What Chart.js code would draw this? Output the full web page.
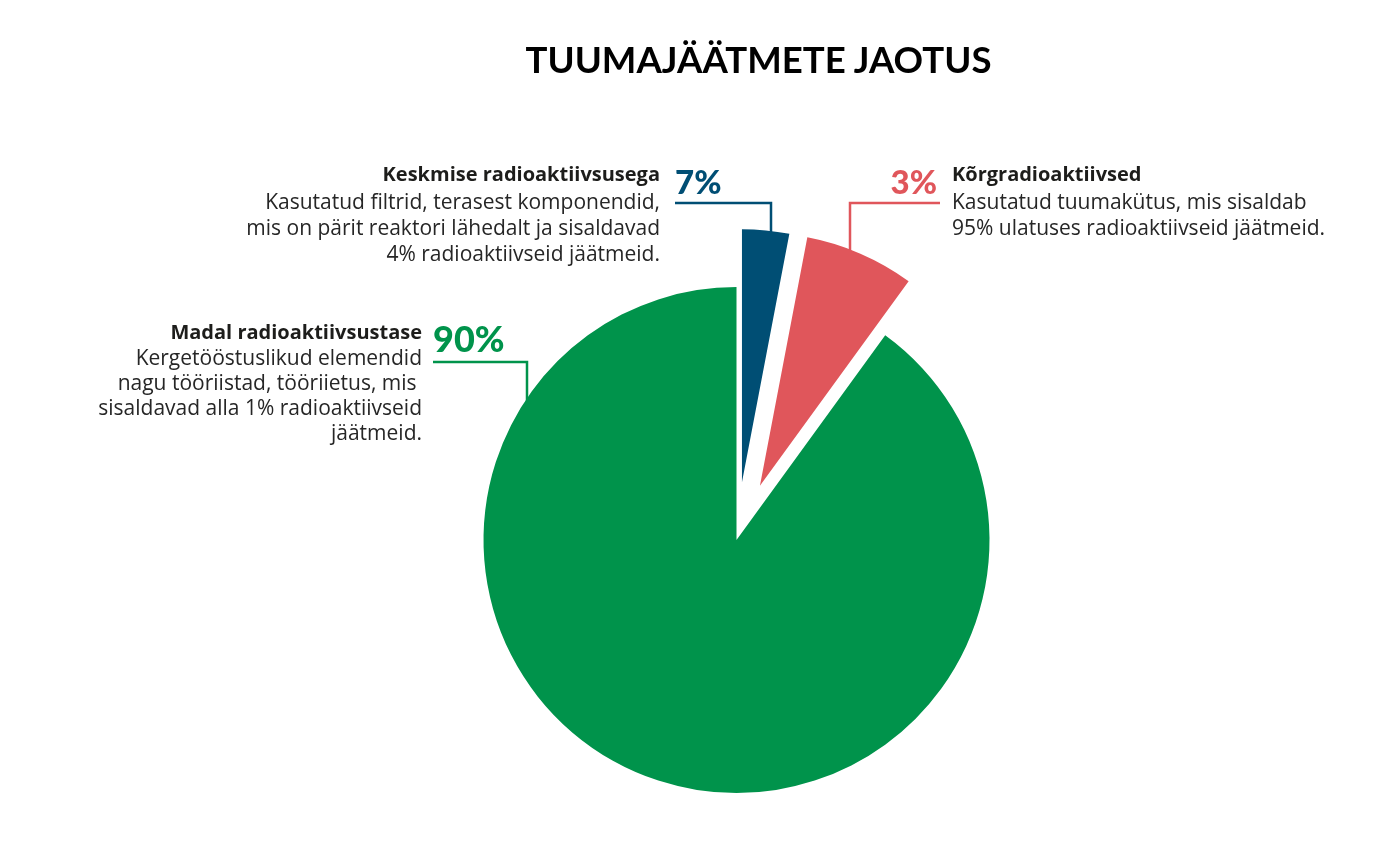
<!DOCTYPE html>
<html lang="et">
<head>
<meta charset="utf-8">
<title>Tuumajäätmete jaotus</title>
<script src="https://cdn.jsdelivr.net/npm/chart.js@4.4.1/dist/chart.umd.min.js"></script>
<style>
  html, body { margin: 0; padding: 0; background: #fff; }
  #wrap { position: relative; width: 1400px; height: 856px; font-family: "Open Sans", Lato, sans-serif; color: #262626; }
  #wrap canvas { position: absolute; left: 0; top: 0; }
  .title { position: absolute; left: 0; width: 1517px; top: 38px; text-align: center; font-family: Lato, sans-serif; font-size: 36.6px; line-height: 1.2; font-weight: 700; color: #000; }
  .block { position: absolute; white-space: nowrap; font-size: 21px; }
  .block .head { font-weight: 700; font-size: 20px; color: #1d1d1b; }
  .pct { position: absolute; white-space: nowrap; font-family: Lato, sans-serif; line-height: 1.2; font-weight: 900; }
</style>
</head>
<body>
<div id="wrap">
  <canvas id="pie" width="1400" height="856"></canvas>
  <div class="title">TUUMAJÄÄTMETE JAOTUS</div>
</div>
<script>
// slice order follows the drawing: clockwise from 12 o'clock
const categories = ["Keskmise radioaktiivsusega", "Kõrgradioaktiivsed", "Madal radioaktiivsustase"];
const shares = [3, 7, 90];               // slice sizes as drawn
const shareLabels = ["7%", "3%", "90%"]; // percentages as printed next to the slices
const descriptions = [
  ["Kasutatud filtrid, terasest komponendid,", "mis on pärit reaktori lähedalt ja sisaldavad", "4% radioaktiivseid jäätmeid."],
  ["Kasutatud tuumakütus, mis sisaldab", "95% ulatuses radioaktiivseid jäätmeid."],
  ["Kergetööstuslikud elemendid", "nagu tööriistad, tööriietus, mis\u00a0", "sisaldavad alla 1% radioaktiivseid", "jäätmeid."]
];

const colors = ["#004e74", "#e0565b", "#00934b"];
const explode = [58, 59, 0];

// where the texts and leader lines sit
const blockPos = [
  { right: 740, top: 160, align: "right", lh: 26, hl: 28 },
  { left: 952, top: 160, align: "left", lh: 26, hl: 28 },
  { right: 978, top: 318, align: "right", lh: 25, hl: 27 }
];
const pctPos = [
  { left: 675, top: 162, size: 33 },
  { right: 463, top: 162, size: 33 },
  { left: 433, top: 317, size: 36 }
];
const leaders = [
  { x0: 675, x1: 771, y: 203 },
  { x0: 940, x1: 850, y: 203 },
  { x0: 433, x1: 527, y: 362 }
];

const wrap = document.getElementById("wrap");
categories.forEach((cat, i) => {
  const p = blockPos[i];
  const b = document.createElement("div");
  b.className = "block";
  b.style.top = p.top + "px";
  b.style.textAlign = p.align;
  if (p.left != null) b.style.left = p.left + "px";
  if (p.right != null) b.style.right = p.right + "px";
  let html = '<div class="head" style="line-height:' + p.hl + 'px">' + cat + '</div>';
  descriptions[i].forEach(t => {
    html += '<div style="line-height:' + p.lh + 'px">' + t + '</div>';
  });
  b.innerHTML = html;
  wrap.appendChild(b);

  const q = pctPos[i];
  const s = document.createElement("div");
  s.className = "pct";
  s.textContent = shareLabels[i];
  s.style.color = colors[i];
  s.style.top = q.top + "px";
  s.style.fontSize = q.size + "px";
  if (q.left != null) s.style.left = q.left + "px";
  if (q.right != null) s.style.right = q.right + "px";
  wrap.appendChild(s);
});

// pushes slices out along their middle angle, keeping the radius
const explodePlugin = {
  id: "explode",
  afterDatasetUpdate(chart, args) {
    const meta = chart.getDatasetMeta(args.index);
    meta.data.forEach((arc, i) => {
      const d = explode[i] || 0;
      if (!d) return;
      const mid = (arc.startAngle + arc.endAngle) / 2;
      arc.x += Math.cos(mid) * d;
      arc.y += Math.sin(mid) * d;
    });
  }
};

// elbow lines from the percentages down to the slice edge
const leaderPlugin = {
  id: "leaders",
  beforeDatasetsDraw(chart) {
    const ctx = chart.ctx;
    const arcs = chart.getDatasetMeta(0).data;
    ctx.save();
    ctx.lineWidth = 2.5;
    leaders.forEach((l, i) => {
      const arc = arcs[i];
      const dx = l.x1 - arc.x;
      const yEdge = arc.y - Math.sqrt(arc.outerRadius * arc.outerRadius - dx * dx) + 4;
      ctx.strokeStyle = colors[i];
      ctx.beginPath();
      ctx.moveTo(l.x0, l.y);
      ctx.lineTo(l.x1, l.y);
      ctx.lineTo(l.x1, yEdge);
      ctx.stroke();
    });
    ctx.restore();
  }
};

new Chart(document.getElementById("pie"), {
  type: "pie",
  data: {
    labels: categories,
    datasets: [{
      data: shares,
      backgroundColor: colors,
      borderWidth: 0
    }]
  },
  options: {
    responsive: false,
    animation: false,
    events: [],
    radius: 253,
    layout: { padding: { left: 73, right: 0, top: 224, bottom: 0 } },
    plugins: {
      legend: { display: false },
      tooltip: { enabled: false }
    }
  },
  plugins: [explodePlugin, leaderPlugin]
});
</script>
</body>
</html>
